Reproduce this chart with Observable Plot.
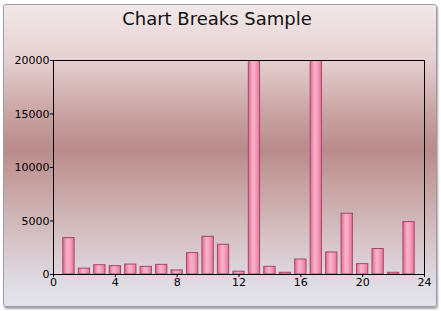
<!DOCTYPE html>
<html>
<head>
<meta charset="utf-8">
<script src="https://cdn.jsdelivr.net/npm/d3@7"></script>
<script src="https://cdn.jsdelivr.net/npm/@observablehq/plot@0.6"></script>
<style>
  html, body { margin: 0; padding: 0; background: #ffffff; }
  #wrap { position: relative; width: 441px; height: 311px; overflow: hidden; background: #fff; }
  #panel {
    position: absolute; left: 3px; top: 4px; width: 432px; height: 301px;
    border: 1px solid #9c9ca8; border-radius: 3px;
    box-shadow: 1px 2px 2px rgba(90,90,100,0.55);
    background: linear-gradient(to bottom, #f2e8e9 0%, #e6d0d1 18%, #c9a3a3 36%, #b98b8b 48%, #c7a2a2 60%, #d6c3c6 78%, #dedbe3 92%, #e4e4ec 100%);
  }
  #title {
    position: absolute; left: 0; width: 434px; top: 8px; text-align: center;
    font-family: "DejaVu Sans", Verdana, sans-serif; font-size: 18px; color: #111;
  }
  #chart { position: absolute; left: 0; top: 0; }
</style>
</head>
<body>
<div id="wrap">
  <div id="panel"></div>
  <div id="title">Chart Breaks Sample</div>
  <div id="chart"></div>
</div>
<script>
const categories = [1, 2, 3, 4, 5, 6, 7, 8, 9, 10, 11, 12, 13, 14, 15, 16, 17, 18, 19, 20, 21, 22, 23];
const values = [3400, 550, 870, 780, 930, 720, 900, 380, 2000, 3520, 2780, 260, 20000, 720, 160, 1400, 20000, 2060, 5680, 970, 2380, 160, 4900];
const xTicks = [0, 4, 8, 12, 16, 20, 24];
const yTicks = [0, 5000, 10000, 15000, 20000];
const barHalfWidth = 0.365;

const data = categories.map((c, i) => ({x: c, y: values[i]}));

const chart = Plot.plot({
  width: 441,
  height: 311,
  marginLeft: 53,
  marginRight: 17,
  marginTop: 60,
  marginBottom: 37,
  style: {background: "transparent", fontFamily: "DejaVu Sans, Verdana, sans-serif", fontSize: "11px", color: "#000"},
  x: {domain: [0, 24], ticks: xTicks, tickSize: 3, tickPadding: 1, label: null, tickFormat: d => String(d)},
  y: {domain: [0, 20000], ticks: yTicks, tickSize: 3, tickPadding: 1, label: null, tickFormat: d => String(d)},
  marks: [
    Plot.rectY(data, {
      x1: d => d.x - barHalfWidth,
      x2: d => d.x + barHalfWidth,
      y: "y",
      fill: "url(#barGrad)",
      stroke: "#a9446a",
      strokeWidth: 1,
      clip: true
    }),
    Plot.frame({stroke: "#000", strokeWidth: 1}),
    Plot.axisX({ticks: xTicks, tickSize: 3, tickPadding: 1, tickFormat: d => String(d), label: null, stroke: "#000"}),
    Plot.axisY({ticks: yTicks, tickSize: 3, tickPadding: 1, tickFormat: d => String(d), label: null, stroke: "#000"})
  ]
});

const defs = d3.select(chart).insert("defs", ":first-child");
const g = defs.append("linearGradient").attr("id", "barGrad").attr("x1", "0").attr("x2", "1").attr("y1", "0").attr("y2", "0");
g.append("stop").attr("offset", "0%").attr("stop-color", "#de6a92");
g.append("stop").attr("offset", "40%").attr("stop-color", "#f8b2c9");
g.append("stop").attr("offset", "60%").attr("stop-color", "#f6a6c0");
g.append("stop").attr("offset", "100%").attr("stop-color", "#e27599");

document.getElementById("chart").appendChild(chart);
</script>
</body>
</html>
